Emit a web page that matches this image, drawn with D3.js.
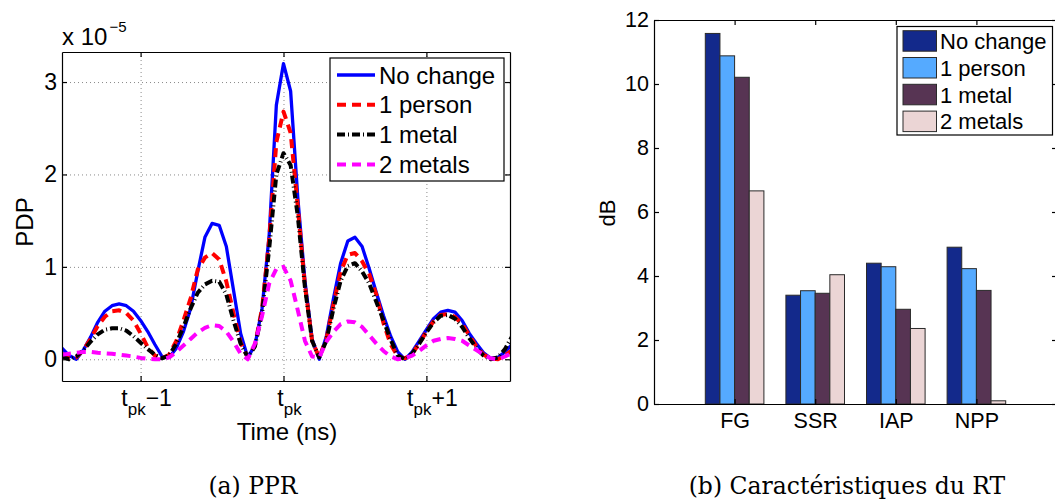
<!DOCTYPE html>
<html>
<head>
<meta charset="utf-8">
<script src="https://cdn.jsdelivr.net/npm/d3@7"></script>
<style>
  body { margin: 0; background: #fff; }
  text { font-family: "Liberation Sans", Arial, sans-serif; fill: #000; }
  .axis path, .axis line { stroke: #000; stroke-width: 1.2; }
  .grid line { stroke: #8a8a8a; stroke-dasharray: 1, 3; stroke-width: 1; }
  .grid path { display: none; }
  .pdp .tick text { font-size: 23px; }
  .bars .tick text { font-size: 21.5px; }
  .caption { font-family: "DejaVu Serif", serif; font-size: 23.5px; }
</style>
</head>
<body>
<div id="chart"></div>
<script>

// data
// ==============================
var timeNs = [-1.55, -1.5, -1.45, -1.4, -1.35, -1.3, -1.25, -1.2, -1.15, -1.1,
  -1.05, -1, -0.95, -0.9, -0.85, -0.8, -0.75, -0.7, -0.65, -0.6,
  -0.55, -0.5, -0.45, -0.4, -0.35, -0.3, -0.25, -0.2, -0.15, -0.1,
  -0.05, 0, 0.05, 0.1, 0.15, 0.2, 0.25, 0.3, 0.35, 0.4,
  0.45, 0.5, 0.55, 0.6, 0.65, 0.7, 0.75, 0.8, 0.85, 0.9,
  0.95, 1, 1.05, 1.1, 1.15, 1.2, 1.25, 1.3, 1.35, 1.4,
  1.45, 1.5, 1.55, 1.6];

// PDP in units of 1e-5
var noChangePdp = [0.12, 0.04, 0.00, 0.10, 0.24, 0.40, 0.52, 0.58, 0.60, 0.58,
  0.52, 0.42, 0.30, 0.16, 0.03, 0.02, 0.12, 0.30, 0.55, 0.95,
  1.32, 1.47, 1.45, 1.22, 0.75, 0.28, 0.02, 0.15, 0.55, 1.35,
  2.75, 3.20, 2.90, 1.75, 0.85, 0.22, 0.00, 0.25, 0.66, 1.04,
  1.28, 1.32, 1.22, 0.98, 0.72, 0.47, 0.25, 0.08, 0.00, 0.08,
  0.20, 0.32, 0.44, 0.51, 0.53, 0.51, 0.42, 0.28, 0.17, 0.07,
  0.01, 0.02, 0.08, 0.16];

var onePersonPdp = [0.06, 0.01, 0.02, 0.10, 0.22, 0.36, 0.46, 0.52, 0.53, 0.50,
  0.42, 0.28, 0.13, 0.04, 0.01, 0.05, 0.20, 0.42, 0.66, 0.97,
  1.10, 1.15, 1.08, 0.84, 0.50, 0.18, 0.02, 0.15, 0.55, 1.30,
  2.35, 2.68, 2.45, 1.65, 0.80, 0.20, 0.02, 0.22, 0.60, 0.95,
  1.13, 1.15, 1.06, 0.92, 0.70, 0.39, 0.16, 0.03, 0.01, 0.06,
  0.17, 0.30, 0.41, 0.48, 0.49, 0.46, 0.38, 0.26, 0.14, 0.05,
  0.01, 0.00, 0.04, 0.10];

var oneMetalPdp = [0.03, 0.00, 0.03, 0.10, 0.19, 0.27, 0.32, 0.335, 0.335, 0.31,
  0.25, 0.18, 0.11, 0.05, 0.01, 0.04, 0.17, 0.35, 0.55, 0.72,
  0.81, 0.85, 0.84, 0.70, 0.42, 0.17, 0.02, 0.14, 0.50, 1.20,
  2.00, 2.23, 2.10, 1.55, 0.78, 0.20, 0.02, 0.20, 0.55, 0.85,
  1.01, 1.04, 0.95, 0.82, 0.62, 0.42, 0.21, 0.04, 0.00, 0.06,
  0.17, 0.29, 0.40, 0.47, 0.48, 0.44, 0.35, 0.23, 0.12, 0.04,
  0.00, 0.02, 0.11, 0.25];

var twoMetalsPdp = [0.05, 0.06, 0.07, 0.08, 0.08, 0.07, 0.065, 0.06, 0.05, 0.04,
  0.03, 0.015, 0.005, 0.00, 0.00, 0.02, 0.08, 0.15, 0.22, 0.29,
  0.34, 0.37, 0.36, 0.30, 0.19, 0.06, 0.00, 0.17, 0.47, 0.82,
  0.98, 1.00, 0.85, 0.53, 0.20, 0.03, 0.02, 0.19, 0.30, 0.38,
  0.41, 0.40, 0.35, 0.26, 0.17, 0.09, 0.03, 0.00, 0.01, 0.04,
  0.09, 0.15, 0.20, 0.22, 0.23, 0.22, 0.20, 0.15, 0.10, 0.05,
  0.01, 0.00, 0.03, 0.07];

var timeTicks = [-1, 0, 1];
var timeTickSuffix = ["\u22121", "", "+1"];
var pdpTicks = [0, 1, 2, 3];

var seriesNames = ["No change", "1 person", "1 metal", "2 metals"];

var categories = ["FG", "SSR", "IAP", "NPP"];
var noChangeDb = [11.58, 3.40, 4.40, 4.90];
var onePersonDb = [10.88, 3.54, 4.29, 4.23];
var oneMetalDb = [10.21, 3.46, 2.96, 3.55];
var twoMetalsDb = [6.66, 4.04, 2.36, 0.10];
var dbTicks = [0, 2, 4, 6, 8, 10, 12];

var svgWidth = 1055;
var svgHeight = 502;

var svg = d3.select("#chart")
  .append("svg")
  .attr("width", svgWidth)
  .attr("height", svgHeight);

// d3 axes put their own font on the group, drop it
function plainAxis(g) {
  g.attr("font-family", null).attr("font-size", null);
}

// Step 1: (a) PDP line chart
// ==============================
var pdpBox = {left: 62, top: 52, right: 510, bottom: 381};
var pdpW = pdpBox.right - pdpBox.left;
var pdpH = pdpBox.bottom - pdpBox.top;

var xTime = d3.scaleLinear().domain([-1.55, 1.585]).range([pdpBox.left, pdpBox.right]);
var yPdp = d3.scaleLinear().domain([-0.235, 3.325]).range([pdpBox.bottom, pdpBox.top]);

var pdpGroup = svg.append("g").attr("class", "pdp");

// dotted grid
pdpGroup.append("g")
  .attr("class", "grid")
  .attr("transform", `translate(0, ${pdpBox.bottom})`)
  .call(d3.axisBottom(xTime).tickValues(timeTicks).tickSize(-pdpH).tickFormat(""));

pdpGroup.append("g")
  .attr("class", "grid")
  .attr("transform", `translate(${pdpBox.left}, 0)`)
  .call(d3.axisLeft(yPdp).tickValues(pdpTicks).tickSize(-pdpW).tickFormat(""));

svg.append("clipPath")
  .attr("id", "pdpClip")
  .append("rect")
  .attr("x", pdpBox.left)
  .attr("y", pdpBox.top)
  .attr("width", pdpW)
  .attr("height", pdpH);

var pdpSeries = [
  {name: seriesNames[0], values: noChangePdp, color: "#0000ff", dash: null, width: 3.3},
  {name: seriesNames[1], values: onePersonPdp, color: "#ff0000", dash: "9,6", width: 4},
  {name: seriesNames[2], values: oneMetalPdp, color: "#000000", dash: "8,3,1,3", width: 4},
  {name: seriesNames[3], values: twoMetalsPdp, color: "#ff00ff", dash: "9,6", width: 4}
];

var lineGen = d3.line()
  .x((d, i) => xTime(timeNs[i]))
  .y(d => yPdp(d));

pdpGroup.append("g")
  .attr("clip-path", "url(#pdpClip)")
  .selectAll("path")
  .data(pdpSeries)
  .enter()
  .append("path")
  .attr("fill", "none")
  .attr("stroke", d => d.color)
  .attr("stroke-width", d => d.width)
  .attr("stroke-dasharray", d => d.dash)
  .attr("stroke-linejoin", "round")
  .attr("d", d => lineGen(d.values));

// axes box, ticks pointing in
pdpGroup.append("g")
  .attr("class", "axis")
  .attr("transform", `translate(0, ${pdpBox.bottom})`)
  .call(d3.axisBottom(xTime).tickValues(timeTicks).tickSize(-5).tickSizeOuter(0).tickFormat(""));

pdpGroup.append("g")
  .attr("class", "axis")
  .attr("transform", `translate(0, ${pdpBox.top})`)
  .call(d3.axisTop(xTime).tickValues(timeTicks).tickSize(-5).tickSizeOuter(0).tickFormat(""));

pdpGroup.append("g")
  .attr("class", "axis")
  .attr("transform", `translate(${pdpBox.left}, 0)`)
  .call(d3.axisLeft(yPdp).tickValues(pdpTicks).tickSize(-5).tickSizeOuter(0).tickPadding(5)
    .tickFormat(d3.format("d")))
  .call(plainAxis);

pdpGroup.append("g")
  .attr("class", "axis")
  .attr("transform", `translate(${pdpBox.right}, 0)`)
  .call(d3.axisRight(yPdp).tickValues(pdpTicks).tickSize(-5).tickSizeOuter(0).tickFormat(""));

// t_pk tick labels with subscripts
timeTicks.forEach(function(t, i) {
  var lbl = pdpGroup.append("text")
    .attr("x", xTime(t) + 6)
    .attr("y", 406)
    .attr("text-anchor", "middle")
    .style("font-size", "23px");
  lbl.append("tspan").text("t");
  lbl.append("tspan").attr("dy", 9).style("font-size", "17px").text("pk");
  if (timeTickSuffix[i]) {
    lbl.append("tspan").attr("dy", -9).text(timeTickSuffix[i]);
  }
});

// x 10^-5 multiplier
var mult = pdpGroup.append("text")
  .attr("x", pdpBox.left)
  .attr("y", 45)
  .style("font-size", "24px");
mult.append("tspan").text("x 10");
mult.append("tspan").attr("dx", 2).attr("dy", -13).style("font-size", "15px").text("\u22125");

pdpGroup.append("text")
  .attr("transform", "translate(33, 222) rotate(-90)")
  .attr("text-anchor", "middle")
  .style("font-size", "24px")
  .text("PDP");

pdpGroup.append("text")
  .attr("x", 287)
  .attr("y", 440)
  .attr("text-anchor", "middle")
  .style("font-size", "24px")
  .text("Time (ns)");

// legend
var pdpLegend = pdpGroup.append("g");
pdpLegend.append("rect")
  .attr("x", 330)
  .attr("y", 58)
  .attr("width", 174)
  .attr("height", 123)
  .attr("fill", "#fff")
  .attr("stroke", "#000")
  .attr("stroke-width", 1.2);

pdpSeries.forEach(function(s, i) {
  var cy = 75 + i * 29.8;
  pdpLegend.append("line")
    .attr("x1", 337).attr("x2", 375)
    .attr("y1", cy).attr("y2", cy)
    .attr("stroke", s.color)
    .attr("stroke-width", s.width)
    .attr("stroke-dasharray", s.dash);
  pdpLegend.append("text")
    .attr("x", 379)
    .attr("y", cy + 8.6)
    .style("font-size", "24px")
    .text(s.name);
});

// Step 2: (b) grouped bar chart
// ==============================
var barBox = {left: 654, top: 20, right: 1057, bottom: 404};

var xCat = d3.scaleLinear().domain([0, 5]).range([barBox.left, barBox.right]);
var yDb = d3.scaleLinear().domain([0, 12]).range([barBox.bottom, barBox.top]);
var inner = d3.scaleBand().domain(seriesNames).range([-29.3, 29.3]);

var barSeries = [
  {name: seriesNames[0], values: noChangeDb, color: "#13298b"},
  {name: seriesNames[1], values: onePersonDb, color: "#55aaff"},
  {name: seriesNames[2], values: oneMetalDb, color: "#573453"},
  {name: seriesNames[3], values: twoMetalsDb, color: "#ebd5d5"}
];

var barGroup = svg.append("g").attr("class", "bars");

barGroup.selectAll(".series")
  .data(barSeries)
  .enter()
  .append("g")
  .attr("class", "series")
  .attr("fill", d => d.color)
  .selectAll("rect")
  .data(d => d.values.map((v, i) => ({cat: i, v: v, name: d.name})))
  .enter()
  .append("rect")
  .attr("x", d => xCat(d.cat + 1) + inner(d.name))
  .attr("width", inner.bandwidth())
  .attr("y", d => yDb(d.v))
  .attr("height", d => yDb(0) - yDb(d.v))
  .attr("stroke", "#2a2a2a")
  .attr("stroke-width", 1);

var catTicks = categories.map((c, i) => i + 1);

var catAxis = barGroup.append("g")
  .attr("class", "axis")
  .attr("transform", `translate(0, ${barBox.bottom})`)
  .call(d3.axisBottom(xCat).tickValues(catTicks).tickSize(-5).tickSizeOuter(0)
    .tickFormat((d, i) => categories[i]))
  .call(plainAxis);
catAxis.selectAll(".tick text").attr("y", 24).attr("dy", 0);

barGroup.append("g")
  .attr("class", "axis")
  .attr("transform", `translate(0, ${barBox.top})`)
  .call(d3.axisTop(xCat).tickValues(catTicks).tickSize(-5).tickSizeOuter(0).tickFormat(""));

barGroup.append("g")
  .attr("class", "axis")
  .attr("transform", `translate(${barBox.left}, 0)`)
  .call(d3.axisLeft(yDb).tickValues(dbTicks).tickSize(-5).tickSizeOuter(0).tickPadding(5)
    .tickFormat(d3.format("d")))
  .call(plainAxis);

barGroup.append("g")
  .attr("class", "axis")
  .attr("transform", `translate(${barBox.right}, 0)`)
  .call(d3.axisRight(yDb).tickValues(dbTicks).tickSize(-5).tickSizeOuter(0).tickFormat(""));

barGroup.append("text")
  .attr("transform", "translate(615, 213) rotate(-90)")
  .attr("text-anchor", "middle")
  .style("font-size", "22px")
  .text("dB");

// legend
var barLegend = barGroup.append("g");
barLegend.append("rect")
  .attr("x", 897)
  .attr("y", 26.5)
  .attr("width", 155.5)
  .attr("height", 108.5)
  .attr("fill", "#fff")
  .attr("stroke", "#000")
  .attr("stroke-width", 1.2);

barSeries.forEach(function(s, i) {
  var top = 30.7 + i * 26.8;
  barLegend.append("rect")
    .attr("x", 903)
    .attr("y", top)
    .attr("width", 33.5)
    .attr("height", 20.5)
    .attr("fill", s.color)
    .attr("stroke", "#2a2a2a")
    .attr("stroke-width", 1);
  barLegend.append("text")
    .attr("x", 940)
    .attr("y", top + 18.3)
    .style("font-size", "22px")
    .text(s.name);
});

// Step 3: sub-figure captions
// ==============================
svg.append("text")
  .attr("class", "caption")
  .attr("x", 253)
  .attr("y", 494)
  .attr("text-anchor", "middle")
  .text("(a) PPR");

svg.append("text")
  .attr("class", "caption")
  .attr("x", 847)
  .attr("y", 494)
  .attr("text-anchor", "middle")
  .text("(b) Caractéristiques du RT");

</script>
</body>
</html>
